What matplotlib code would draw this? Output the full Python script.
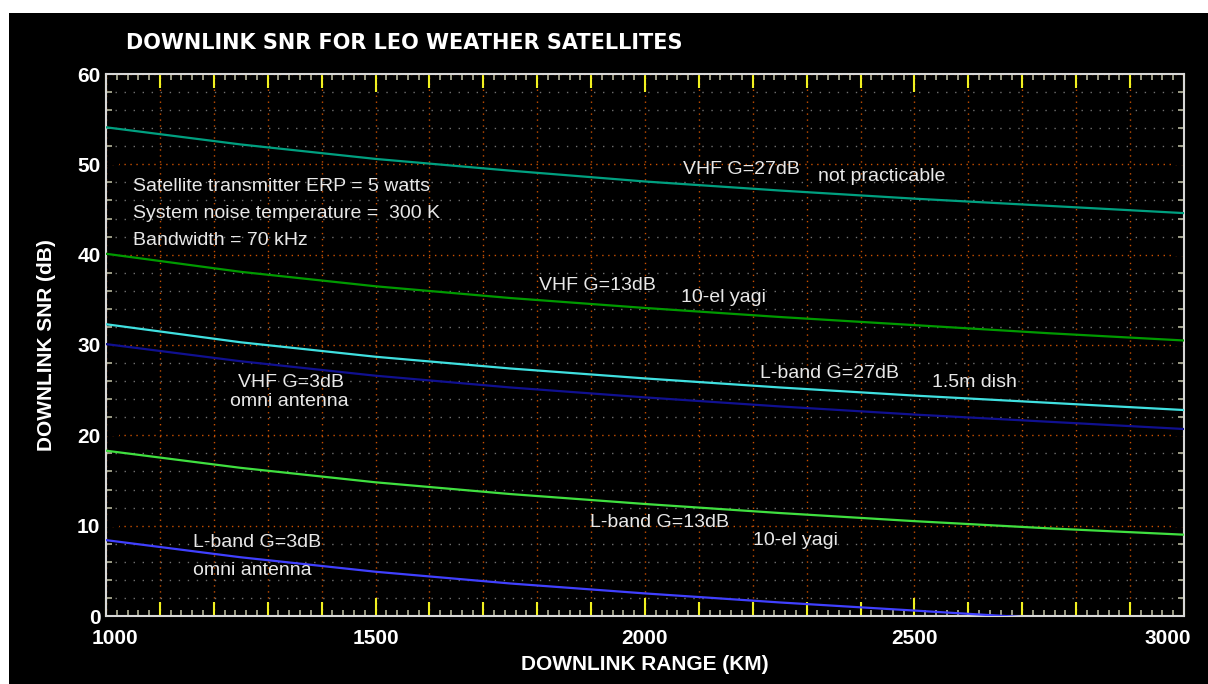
import matplotlib.pyplot as plt
import matplotlib.transforms as mtransforms
from matplotlib.patches import Rectangle
from matplotlib.ticker import MultipleLocator, FuncFormatter

# Data: downlink range (km) and SNR (dB)
range_km = [1000, 1250, 1500, 1750, 2000, 2250, 2500, 2750, 3000]
vhf_27 = [54.1, 52.2, 50.6, 49.3, 48.1, 47.1, 46.2, 45.4, 44.6]
vhf_13 = [40.1, 38.1, 36.5, 35.2, 34.1, 33.1, 32.2, 31.3, 30.5]
lband_27 = [32.3, 30.3, 28.7, 27.4, 26.3, 25.3, 24.4, 23.6, 22.8]
vhf_3 = [30.1, 28.2, 26.6, 25.3, 24.2, 23.2, 22.3, 21.5, 20.7]
lband_13 = [18.3, 16.4, 14.8, 13.5, 12.4, 11.4, 10.5, 9.7, 9.0]
lband_3 = [8.4, 6.5, 4.9, 3.6, 2.5, 1.5, 0.6, -0.3, -1.0]

series = [
    (vhf_27, '#00a080'),
    (vhf_13, '#009a00'),
    (lband_27, '#40e0e0'),
    (vhf_3, '#101090'),
    (lband_13, '#40e040'),
    (lband_3, '#4040ff'),
]

# (x, y, text) annotations in data coordinates
notes = [
    (2070, 49.4, 'VHF G=27dB'), (2321, 48.7, 'not practicable'),
    (1050, 47.6, 'Satellite transmitter ERP = 5 watts'),
    (1050, 44.6, 'System noise temperature =  300 K'),
    (1050, 41.6, 'Bandwidth = 70 kHz'),
    (1803, 36.6, 'VHF G=13dB'), (2067, 35.3, '10-el yagi'),
    (2213, 26.9, 'L-band G=27dB'), (2532, 25.9, '1.5m dish'),
    (1245, 25.9, 'VHF G=3dB'), (1230, 23.8, 'omni antenna'),
    (1898, 10.4, 'L-band G=13dB'), (2200, 8.4, '10-el yagi'),
    (1161, 8.1, 'L-band G=3dB'), (1161, 5.0, 'omni antenna'),
]

plt.rcParams['font.family'] = ['Liberation Sans', 'DejaVu Sans']

W, H = 1208, 684
fig = plt.figure(figsize=(W / 100, H / 100), dpi=100, facecolor='white')
fig.patches.append(Rectangle((9 / W, 0), 1, 1 - 13 / H, transform=fig.transFigure,
                             facecolor='black', edgecolor='none', zorder=-10))

ax = fig.add_axes([106 / W, 68 / H, 1078 / W, 542 / H])
ax.set_facecolor('black')

for vals, col in series:
    ax.plot(range_km, vals, color=col, lw=1.6, zorder=3)

for x, y, t in notes:
    ax.text(x, y, t, color='#e8e8e8', fontsize=14, va='center', ha='left', zorder=4)

ax.set_xlim(1000, 3000)
ax.set_ylim(0, 60)

# ticks
ax.xaxis.set_major_locator(MultipleLocator(100))
ax.xaxis.set_minor_locator(MultipleLocator(20))
ax.yaxis.set_major_locator(MultipleLocator(10))
ax.yaxis.set_minor_locator(MultipleLocator(2))
ax.xaxis.set_major_formatter(FuncFormatter(lambda v, p: f'{v:.0f}' if v % 500 == 0 else ''))
ax.tick_params(which='both', direction='in', top=True, right=True)
ax.tick_params(axis='x', which='major', length=10, width=1.5, color='#f0f020',
               labelsize=15, labelcolor='white', pad=9)
ax.tick_params(axis='y', which='major', length=9, width=1.5,
               labelsize=15, labelcolor='white', pad=4)
ax.tick_params(which='minor', length=4.5, width=1.3, color='#a8a890')
for lab in ax.get_xticklabels() + ax.get_yticklabels():
    lab.set_fontweight('bold')

for t, v in zip(ax.xaxis.get_major_ticks(), ax.get_xticks()):
    if v % 500 == 0:
        t.tick1line.set_markersize(13)
        t.tick2line.set_markersize(13)
    # end labels sit a little inside the axis ends
    if v == 1000:
        t.label1.set_transform(t.label1.get_transform() +
                               mtransforms.ScaledTranslation(9 / 100, 0, fig.dpi_scale_trans))
    if v == 3000:
        t.label1.set_transform(t.label1.get_transform() +
                               mtransforms.ScaledTranslation(-16 / 100, 0, fig.dpi_scale_trans))
for t, v in zip(ax.yaxis.get_major_ticks(), ax.get_yticks()):
    c = '#f0f020' if v % 20 == 0 else '#ffffff'
    t.tick1line.set_color(c)
    t.tick2line.set_color(c)

# grid
ax.grid(which='major', axis='x', color='#c85000', lw=1.0, ls=(0, (1, 3.3)))
ax.grid(which='major', axis='y', color='#c85000', lw=1.0, ls=(0, (1, 3.3)))
ax.grid(which='minor', axis='y', color='#707070', lw=1.0, ls=(0, (1, 5.5)))
ax.set_axisbelow(True)

for s in ax.spines.values():
    s.set_color('#d8d8d8')
    s.set_linewidth(1.5)

fig.text(126 / W, 1 - 43 / H, 'DOWNLINK SNR FOR LEO WEATHER SATELLITES', color='white',
         fontsize=15, fontweight='bold', family='DejaVu Sans', ha='left', va='center')
fig.text(645 / W, 1 - 664 / H, 'DOWNLINK RANGE (KM)', color='white',
         fontsize=15, fontweight='bold', ha='center', va='center')
fig.text(47 / W, 1 - 345 / H, 'DOWNLINK SNR (dB)', color='white', rotation=90,
         fontsize=15, fontweight='bold', ha='center', va='center')

fig.savefig('out.png', dpi=100, facecolor=fig.get_facecolor())
